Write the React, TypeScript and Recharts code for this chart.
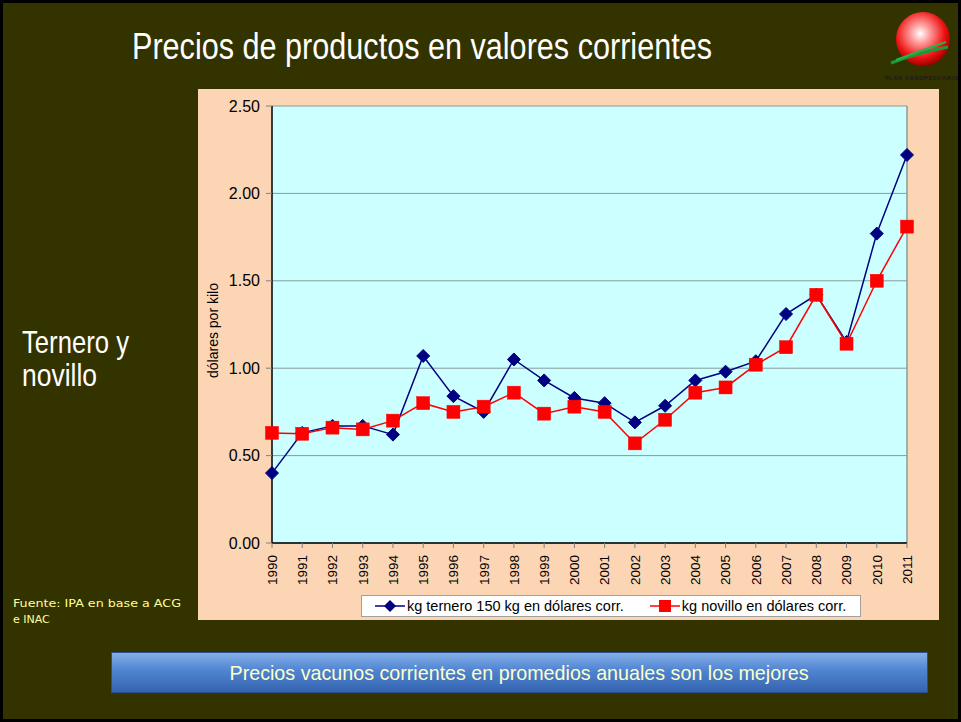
import React from 'react';
import { LineChart, Line, XAxis, YAxis, CartesianGrid, Legend, ReferenceLine } from 'recharts';

const years = ['1990','1991','1992','1993','1994','1995','1996','1997','1998','1999','2000','2001','2002','2003','2004','2005','2006','2007','2008','2009','2010','2011'];
const ternero = [0.40,0.63,0.67,0.67,0.62,1.07,0.84,0.75,1.05,0.93,0.83,0.80,0.69,0.785,0.93,0.98,1.04,1.31,1.42,1.15,1.77,2.22];
const novillo = [0.63,0.625,0.66,0.65,0.70,0.80,0.75,0.78,0.86,0.74,0.78,0.75,0.57,0.705,0.86,0.89,1.02,1.12,1.42,1.14,1.50,1.81];
const yTicks = [0, 0.5, 1.0, 1.5, 2.0, 2.5];
const seriesNames = ['kg ternero 150 kg en dólares corr.', 'kg novillo en dólares corr.'];

const data = years.map((y, i) => ({ year: y, ternero: ternero[i], novillo: novillo[i] }));

const NARROW = '"Liberation Sans Narrow", "Arial Narrow", "Liberation Sans", Arial, sans-serif';
const ARIAL = '"Liberation Sans", Arial, sans-serif';

const Diamond = (props: any) => {
  const { cx, cy, index } = props;
  if (cx == null || cy == null) return null;
  const r = 6.5;
  return <polygon key={'d' + index} points={`${cx},${cy - r} ${cx + r},${cy} ${cx},${cy + r} ${cx - r},${cy}`} fill="#000080" stroke="#000080" />;
};

const Square = (props: any) => {
  const { cx, cy, index } = props;
  if (cx == null || cy == null) return null;
  const s = 13;
  return <rect key={'s' + index} x={cx - s / 2} y={cy - s / 2} width={s} height={s} fill="#FF0000" stroke="#FF0000" strokeWidth={0.5} />;
};

const XTick = (props: any) => {
  const { x, y, payload } = props;
  return (
    <g transform={`translate(${x},${y + 5}) rotate(-90)`}>
      <text x={0} y={0} dy="0.36em" textAnchor="end" fontFamily={ARIAL} fontSize={13.5} fill="#000">{payload.value}</text>
    </g>
  );
};

const LegendBox = () => (
  <div style={{ width: 498, height: 20, background: '#fff', border: '1px solid #a0a0a0', display: 'flex', alignItems: 'center', fontFamily: ARIAL, fontSize: 14.5, color: '#000', boxSizing: 'content-box' }}>
    <svg width={34} height={20} style={{ marginLeft: 11 }}>
      <line x1={2} y1={10} x2={32} y2={10} stroke="#000080" strokeWidth={1.5} />
      <polygon points="17,4 23,10 17,16 11,10" fill="#000080" />
    </svg>
    <span style={{ marginLeft: 0, whiteSpace: 'nowrap' }}>{seriesNames[0]}</span>
    <svg width={34} height={20} style={{ marginLeft: 24 }}>
      <line x1={2} y1={10} x2={32} y2={10} stroke="#FF0000" strokeWidth={1.5} />
      <rect x={11} y={4} width={12} height={12} fill="#FF0000" />
    </svg>
    <span style={{ marginLeft: 0, whiteSpace: 'nowrap' }}>{seriesNames[1]}</span>
  </div>
);

const YLabel = (props: any) => {
  const vb = props.viewBox || {};
  const cx = 15;
  const cy = (vb.y || 0) + (vb.height || 0) / 2 + 6;
  return (
    <text x={cx} y={cy} transform={`rotate(-90, ${cx}, ${cy})`} textAnchor="middle" dy="0.36em" fontFamily={ARIAL} fontSize={14} fill="#000">dólares por kilo</text>
  );
};

export default function App() {
  return (
    <div style={{ position: 'fixed', left: 0, top: 0, width: 961, height: 722, background: '#333300', boxSizing: 'border-box', border: '3px solid #000', overflow: 'hidden' }}>
      <svg width={961} height={722} style={{ position: 'absolute', left: -3, top: -3 }}>
        <defs>
          <radialGradient id="logoG" cx="0.45" cy="0.4" r="0.6">
            <stop offset="0" stopColor="#ffffff" />
            <stop offset="0.3" stopColor="#ff9a9a" />
            <stop offset="0.75" stopColor="#ee1111" />
            <stop offset="1" stopColor="#a00000" />
          </radialGradient>
          <linearGradient id="boxG" x1="0" y1="0" x2="0" y2="1">
            <stop offset="0" stopColor="#86b0e8" />
            <stop offset="0.45" stopColor="#4f84d2" />
            <stop offset="1" stopColor="#3563ad" />
          </linearGradient>
        </defs>
        <text x={132} y={59} fontFamily={NARROW} fontSize={36} fill="#ffffff" textLength={580} lengthAdjust="spacingAndGlyphs">Precios de productos en valores corrientes</text>
        <circle cx={923} cy={39} r={27} fill="url(#logoG)" />
        <path d="M 891 63 Q 920 52 948 47" stroke="#1a9a3a" strokeWidth={3} fill="none" />
        <path d="M 896 60 Q 922 50 946 42" stroke="#2bb04a" strokeWidth={2} fill="none" />
        <text x={885} y={80} fontFamily={ARIAL} fontSize={5.5} fontWeight="bold" fill="#1a1a1a" textLength={73}>PLAN AGROPECUARIO</text>
        <text x={22} y={353} fontFamily={NARROW} fontSize={32} fill="#ffffff" textLength={107} lengthAdjust="spacingAndGlyphs">Ternero y</text>
        <text x={22} y={386} fontFamily={NARROW} fontSize={32} fill="#ffffff" textLength={75} lengthAdjust="spacingAndGlyphs">novillo</text>
        <text x={13} y={607} fontFamily='"DejaVu Sans", sans-serif' fontSize={11} fill="#FFFF99" textLength={168} lengthAdjust="spacingAndGlyphs">Fuente: IPA en base a ACG</text>
        <text x={13} y={623} fontFamily='"DejaVu Sans", sans-serif' fontSize={11} fill="#FFFF99">e INAC</text>
        <rect x={111.5} y={652.5} width={816} height={40} fill="url(#boxG)" stroke="#2a4f8a" strokeWidth={1} />
        <text x={519} y={680} textAnchor="middle" fontFamily={NARROW} fontSize={21} fill="#FFFFCC" textLength={579} lengthAdjust="spacingAndGlyphs">Precios vacunos corrientes en promedios anuales son los mejores</text>
      </svg>
      <div style={{ position: 'absolute', left: 195, top: 86, width: 741, height: 531, background: '#FCD5B4' }}>
        <LineChart width={741} height={531} data={data} margin={{ top: 17, right: 32, left: 0, bottom: 37 }}>
          <CartesianGrid vertical={false} horizontal={true} stroke="#8a9a9a" fill="#CCFFFF" fillOpacity={1} />
          <XAxis dataKey="year" type="category" interval={0} height={40} tick={<XTick />} tickLine={{ stroke: '#808080' }} tickSize={5} axisLine={{ stroke: '#000', strokeWidth: 1.5 }} padding={{ left: 0, right: 0 }} />
          <YAxis type="number" domain={[0, 2.5]} ticks={yTicks} width={74} tickFormatter={(v: number) => v.toFixed(2)} tick={{ fill: '#000', fontSize: 16, fontFamily: ARIAL }} tickLine={{ stroke: '#808080' }} tickSize={6} tickMargin={6} axisLine={{ stroke: '#000', strokeWidth: 1.5 }} label={<YLabel />} allowDataOverflow />
          <ReferenceLine x="2011" stroke="#8a9a9a" strokeWidth={1.5} ifOverflow="visible" />
          <Legend layout="horizontal" verticalAlign="middle" align="center" wrapperStyle={{ left: 163, top: 506, width: 500, height: 22 }} content={<LegendBox />} />
          <Line type="linear" dataKey="ternero" name={seriesNames[0]} stroke="#000080" strokeWidth={1.5} dot={<Diamond />} activeDot={false} isAnimationActive={false} />
          <Line type="linear" dataKey="novillo" name={seriesNames[1]} stroke="#FF0000" strokeWidth={1.5} dot={<Square />} activeDot={false} isAnimationActive={false} />
        </LineChart>
      </div>
    </div>
  );
}
